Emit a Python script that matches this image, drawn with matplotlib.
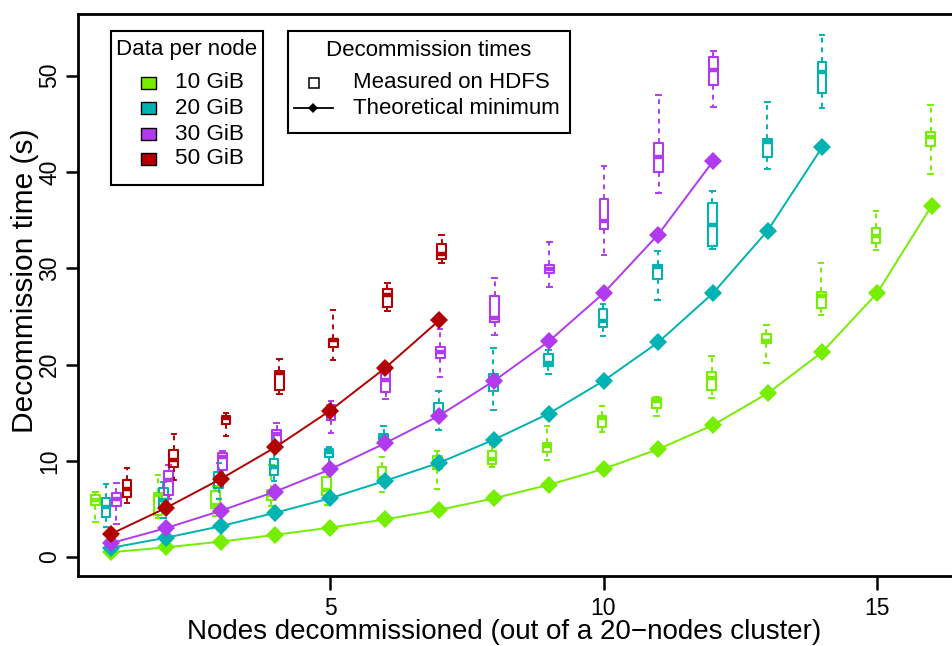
import matplotlib
matplotlib.use('Agg')
import matplotlib.pyplot as plt
from matplotlib.patches import Rectangle
from matplotlib.lines import Line2D

plt.rcParams['font.family'] = ['Liberation Sans', 'DejaVu Sans']

# ---------------- data ----------------
sizes = ['10 GiB', '20 GiB', '30 GiB', '50 GiB']
colors = ['#76EE00', '#00B2B2', '#B23AEE', '#B20000']

nodes_10 = list(range(1, 17))
nodes_20 = list(range(1, 15))
nodes_30 = list(range(1, 13))
nodes_50 = list(range(1, 8))

# theoretical minimum (s)
theory_10 = [0.5, 1.0, 1.6, 2.3, 3.05, 3.9, 4.9, 6.1, 7.5, 9.15, 11.2, 13.7, 17.0, 21.3, 27.4, 36.5]
theory_20 = [0.96, 2.0, 3.2, 4.6, 6.1, 7.9, 9.8, 12.2, 14.9, 18.3, 22.3, 27.4, 33.9, 42.6]
theory_30 = [1.44, 3.0, 4.8, 6.8, 9.1, 11.8, 14.7, 18.3, 22.4, 27.4, 33.5, 41.1]
theory_50 = [2.4, 5.1, 8.1, 11.4, 15.2, 19.6, 24.6]

# measured on HDFS: (min, q1, median, q3, max)
box_10 = [(3.6, 5.4, 5.9, 6.4, 6.8), (4.1, 4.4, 6.4, 6.7, 8.5), (4.3, 5.1, 5.4, 6.9, 7.4),
          (5.3, 5.9, 6.4, 7.0, 9.6), (5.4, 6.4, 7.0, 8.3, 9.0), (6.8, 7.8, 8.2, 9.3, 10.4),
          (7.1, 9.1, 9.8, 10.5, 11.0), (9.4, 9.7, 10.2, 11.0, 11.6), (10.1, 10.9, 11.5, 11.8, 13.6),
          (13.0, 13.5, 14.4, 14.7, 15.7), (14.6, 15.5, 16.2, 16.5, 16.6), (16.5, 17.4, 18.6, 19.2, 20.9),
          (20.2, 22.2, 22.4, 23.2, 24.1), (25.1, 25.9, 27.1, 27.5, 30.5), (31.9, 32.6, 33.3, 34.2, 35.9),
          (39.8, 42.7, 43.6, 44.2, 47.0)]
box_20 = [(3.1, 4.2, 5.2, 6.1, 7.6), (4.1, 5.1, 5.9, 7.2, 7.8), (6.0, 7.2, 8.2, 8.8, 9.8),
          (7.9, 8.5, 9.4, 10.2, 12.7), (9.6, 10.4, 10.9, 11.2, 11.4), (11.6, 12.0, 12.5, 12.8, 13.6),
          (13.2, 14.4, 14.7, 16.0, 17.2), (15.3, 17.2, 18.2, 19.0, 21.7), (19.0, 19.8, 20.2, 21.1, 21.5),
          (23.0, 23.9, 24.5, 25.8, 26.3), (26.7, 28.9, 30.1, 30.3, 31.8), (32.0, 32.3, 34.5, 36.8, 38.0),
          (40.3, 41.6, 43.1, 43.4, 47.3), (46.7, 48.2, 50.4, 51.4, 54.2)]
box_30 = [(3.4, 5.3, 6.0, 6.7, 7.7), (6.0, 6.4, 8.0, 8.9, 9.6), (8.2, 9.0, 10.4, 10.8, 11.0),
          (11.5, 11.8, 12.8, 13.2, 13.9), (12.9, 14.2, 15.1, 15.8, 16.2), (16.4, 17.1, 18.4, 19.7, 19.9),
          (18.7, 20.7, 21.3, 21.8, 23.7), (23.1, 24.4, 24.8, 27.1, 29.0), (28.1, 29.5, 29.9, 30.3, 32.7),
          (31.4, 34.1, 34.9, 37.2, 40.6), (37.8, 40.0, 41.6, 43.0, 48.0), (46.8, 49.0, 50.6, 52.0, 52.6)]
box_50 = [(5.6, 6.2, 7.1, 8.0, 9.2), (8.0, 9.4, 10.1, 11.1, 12.8), (12.6, 13.8, 14.4, 14.7, 15.0),
          (16.9, 17.3, 19.1, 19.3, 20.6), (20.5, 21.8, 22.5, 22.7, 25.7), (25.6, 26.0, 27.2, 27.8, 28.5),
          (30.5, 31.0, 31.5, 32.5, 33.5)]

x_ticks = [5, 10, 15]
y_ticks = [0, 10, 20, 30, 40, 50]
x_label = 'Nodes decommissioned (out of a 20\u2212nodes cluster)'
y_label = 'Decommission time (s)'
legend1_title = 'Data per node'
legend2_title = 'Decommission times'
legend2_labels = ['Measured on HDFS', 'Theoretical minimum']

series = [(nodes_10, theory_10, box_10), (nodes_20, theory_20, box_20),
          (nodes_30, theory_30, box_30), (nodes_50, theory_50, box_50)]
dodge = [-1.0, -1.0 / 3, 1.0 / 3, 1.0]

# ---------------- figure ----------------
W, H = 952, 646
fig = plt.figure(figsize=(W / 100, H / 100), dpi=100)
ax = fig.add_axes([78 / W, (H - 576) / H, (W - 78) / W, (576 - 14) / H])

for (nodes, theory, boxes), col, k in zip(series, colors, dodge):
    stats = [dict(whislo=b[0], q1=b[1], med=b[2], q3=b[3], whishi=b[4], fliers=[]) for b in boxes]
    pos = [n + k * 0.29 / n for n in nodes]
    ax.bxp(stats, positions=pos, widths=0.16, capwidths=0.085, showfliers=False,
           manage_ticks=False,
           boxprops=dict(color=col, linewidth=1.5),
           medianprops=dict(color=col, linewidth=3.2, solid_capstyle='butt'),
           whiskerprops=dict(color=col, linewidth=1.4, linestyle=(0, (2.5, 2.5))),
           capprops=dict(color=col, linewidth=1.4), zorder=2)

for (nodes, theory, boxes), col in zip(series, colors):
    ax.plot(nodes, theory, color=col, linewidth=1.4, marker='D', markersize=9.5,
            markeredgewidth=0, zorder=3)

ax.set_xlim(1 + (78 - 111.2) / 54.7, 1 + (W - 111.2) / 54.7)
ax.set_ylim((557 - 576) / 9.625, (557 - 14) / 9.625)
ax.set_xticks(x_ticks)
ax.set_yticks(y_ticks)
ax.spines['right'].set_visible(False)
for s in ['left', 'bottom', 'top']:
    ax.spines[s].set_linewidth(2.0)
ax.tick_params(axis='x', length=10, width=1.8, labelsize=16.5, pad=5)
ax.tick_params(axis='y', length=9, width=1.8, labelsize=16.5, pad=3)
for lab in ax.get_yticklabels():
    lab.set_rotation(90)
    lab.set_va('center')

fig.text(504 / W, 1 - 632 / H, x_label, ha='center', va='center', fontsize=20)
fig.text(25 / W, 1 - 281 / H, y_label, ha='center', va='center', rotation=90, fontsize=21.5)

def fx(x):
    return x / W

def fy(y):
    return 1 - y / H

tf = fig.transFigure
# legend 1
fig.add_artist(Rectangle((fx(111), fy(185)), (263 - 111) / W, (185 - 31) / H, transform=tf,
                         facecolor='white', edgecolor='black', linewidth=1.5, zorder=5))
fig.text(fx(187), fy(50), legend1_title, ha='center', va='center', fontsize=16, zorder=6)
rows1 = [83, 108, 134, 159]
for lab, col, yy in zip(sizes, colors, rows1):
    fig.add_artist(Rectangle((fx(140.5), fy(yy + 6)), 15 / W, 12 / H, transform=tf,
                             facecolor=col, edgecolor='black', linewidth=1.0, zorder=6))
    fig.text(fx(175), fy(yy), lab, ha='left', va='center', fontsize=16.2, zorder=6)

# legend 2
fig.add_artist(Rectangle((fx(288), fy(133)), (570 - 288) / W, (133 - 31) / H, transform=tf,
                         facecolor='white', edgecolor='black', linewidth=1.5, zorder=5))
fig.text(fx(429), fy(50), legend2_title, ha='center', va='center', fontsize=16, zorder=6)
fig.add_artist(Rectangle((fx(308.5), fy(88)), 10 / W, 10 / H, transform=tf,
                         facecolor='white', edgecolor='black', linewidth=1.1, zorder=6))
fig.add_artist(Line2D([fx(294), fx(333)], [fy(108), fy(108)], transform=tf, color='black',
                      linewidth=1.3, marker=None, zorder=6))
fig.add_artist(Line2D([fx(313)], [fy(108)], transform=tf, color='black',
                      marker='D', markersize=5, markeredgewidth=0, linestyle='none', zorder=7))
fig.text(fx(353), fy(82), legend2_labels[0], ha='left', va='center', fontsize=16, zorder=6)
fig.text(fx(353), fy(108), legend2_labels[1], ha='left', va='center', fontsize=16, zorder=6)

fig.savefig('out.png', dpi=100)
